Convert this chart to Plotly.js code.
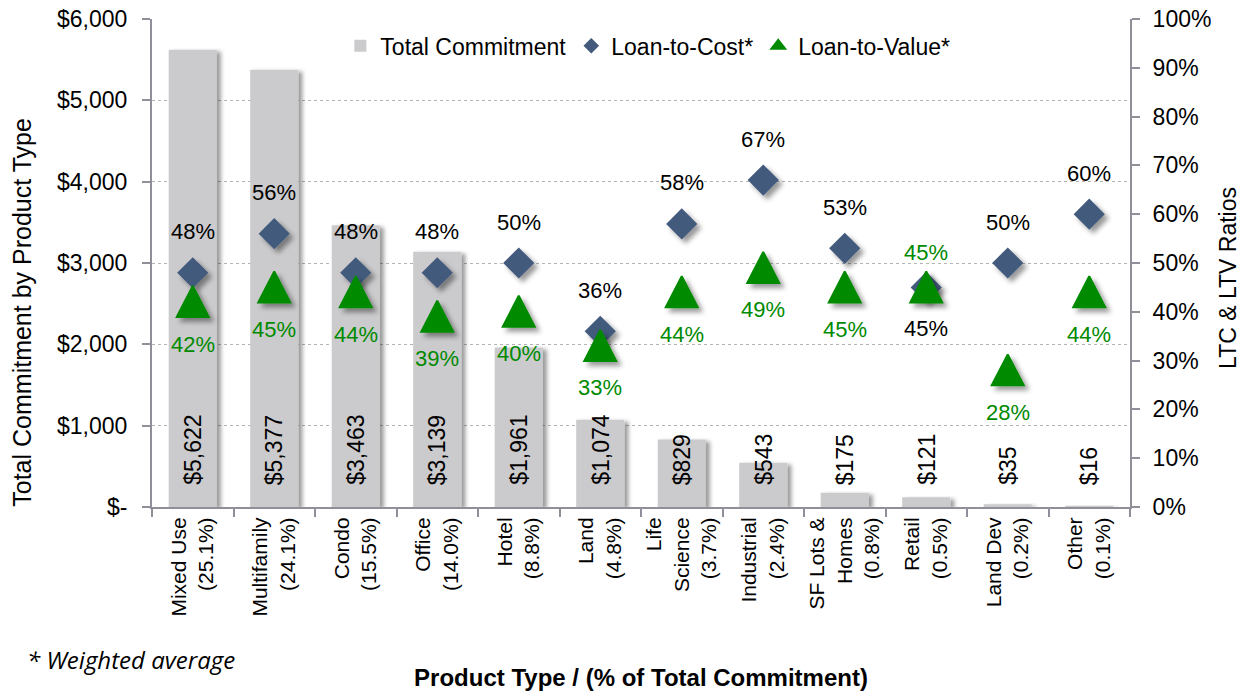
<!DOCTYPE html>
<html>
<head>
<meta charset="utf-8">
<script src="https://cdn.plot.ly/plotly-3.0.1.min.js"></script>
<style>
  html, body { margin: 0; padding: 0; background: #ffffff; }
  #chart { width: 1248px; height: 692px; }
  .barlayer .point path { filter: url(#shadowBar); }
  .scatterlayer path.point { filter: url(#shadowMark); }
</style>
</head>
<body>
<svg width="0" height="0" style="position:absolute">
  <defs>
    <filter id="shadowBar" x="-30%" y="-10%" width="160%" height="120%">
      <feDropShadow dx="4" dy="2" stdDeviation="2" flood-color="#000" flood-opacity="0.4"/>
    </filter>
    <filter id="shadowMark" x="-50%" y="-50%" width="200%" height="200%">
      <feDropShadow dx="4" dy="4" stdDeviation="2.5" flood-color="#000" flood-opacity="0.4"/>
    </filter>
  </defs>
</svg>
<div id="chart"></div>
<script>
// ---- data ----
const categories = ['Mixed Use', 'Multifamily', 'Condo', 'Office', 'Hotel', 'Land',
  'Life<br>Science', 'Industrial', 'SF Lots &<br>Homes', 'Retail', 'Land Dev', 'Other'];
const sharePct = ['25.1%', '24.1%', '15.5%', '14.0%', '8.8%', '4.8%',
  '3.7%', '2.4%', '0.8%', '0.5%', '0.2%', '0.1%'];
const totalCommitment = [5622, 5377, 3463, 3139, 1961, 1074, 829, 543, 175, 121, 35, 16];
const loanToCost = [48, 56, 48, 48, 50, 36, 58, 67, 53, 45, 50, 60];
const loanToValue = [42, 45, 44, 39, 40, 33, 44, 49, 45, 45, 28, 44];
const leftTickVals = [0, 1000, 2000, 3000, 4000, 5000, 6000];
const leftTickText = ['$-', '$1,000', '$2,000', '$3,000', '$4,000', '$5,000', '$6,000'];
const rightTickVals = [0, 10, 20, 30, 40, 50, 60, 70, 80, 90, 100];
const rightTickText = ['0%', '10%', '20%', '30%', '40%', '50%', '60%', '70%', '80%', '90%', '100%'];

// ---- build ----
const FONT = 'Liberation Sans, Arial, Helvetica, sans-serif';
const xLabels = categories.map((c, i) => c + '<br>(' + sharePct[i] + ')');
const AXIS = '#8e8f99';
const GREEN = '#008a00';
const SLATE = '#435a7c';

const traces = [
  {
    type: 'bar', name: 'Total Commitment', x: xLabels, y: totalCommitment,
    marker: { color: '#cbcacc' }, width: 0.59, yaxis: 'y', hoverinfo: 'x+y'
  },
  {
    type: 'scatter', mode: 'markers', name: 'Loan-to-Cost*', x: xLabels, y: loanToCost,
    yaxis: 'y2', marker: { symbol: 'diamond', size: 24, color: SLATE }
  },
  {
    type: 'scatter', mode: 'markers', name: 'Loan-to-Value*', x: xLabels, y: loanToValue,
    yaxis: 'y2', marker: { symbol: 'triangle-up', size: 27, color: GREEN, line: { color: GREEN, width: 2 } }
  }
];

const annotations = [];
xLabels.forEach((xl, i) => {
  const swap = categories[i] === 'Retail';
  annotations.push({
    x: xl, y: loanToCost[i], xref: 'x', yref: 'y2', text: loanToCost[i] + '%',
    showarrow: false, yshift: swap ? -41 : 41,
    font: { family: FONT, size: 22, color: '#000000' }
  });
  annotations.push({
    x: xl, y: loanToValue[i], xref: 'x', yref: 'y2', text: loanToValue[i] + '%',
    showarrow: false, yshift: swap ? 35 : -42,
    font: { family: FONT, size: 22, color: GREEN }
  });
  annotations.push({
    x: xl, y: 0, xref: 'x', yref: 'paper', yanchor: 'bottom', yshift: 20,
    text: '$' + totalCommitment[i].toLocaleString('en-US'), textangle: -90,
    showarrow: false, font: { family: FONT, size: 23, color: '#000000' }
  });
});
// axis titles (placed as in the reference)
annotations.push({
  xref: 'paper', yref: 'paper', x: -0.133, y: 0.40, xanchor: 'center', yanchor: 'middle',
  text: 'Total Commitment by Product Type', textangle: -90, showarrow: false,
  font: { family: FONT, size: 25, color: '#000000' }
});
annotations.push({
  xref: 'paper', yref: 'paper', x: 1.100, y: 0.469, xanchor: 'center', yanchor: 'middle',
  text: 'LTC & LTV Ratios', textangle: -90, showarrow: false,
  font: { family: FONT, size: 23, color: '#000000' }
});
annotations.push({
  xref: 'paper', yref: 'paper', x: -0.13, y: -0.313, xanchor: 'left', yanchor: 'middle',
  text: '<i>* Weighted average</i>', showarrow: false,
  font: { family: 'Open Sans, sans-serif', size: 24, color: '#000000' }
});

const layout = {
  width: 1248, height: 692,
  margin: { l: 152, r: 118, t: 19, b: 185 },
  paper_bgcolor: '#ffffff', plot_bgcolor: '#ffffff',
  font: { family: FONT, size: 22, color: '#000000' },
  showlegend: true,
  legend: {
    orientation: 'h', x: 0.507, xanchor: 'center', y: 0.945, yanchor: 'middle',
    bgcolor: 'rgba(0,0,0,0)', font: { family: FONT, size: 23, color: '#000000' },
    itemsizing: 'constant', traceorder: 'normal'
  },
  xaxis: {
    type: 'category', range: [-0.5, 11.5], showline: true, linecolor: AXIS, linewidth: 2,
    ticks: 'outside', tickson: 'boundaries', ticklen: 8, tickcolor: AXIS, tickwidth: 2,
    tickangle: -90, tickfont: { family: FONT, size: 21, color: '#000000' },
    showgrid: false, zeroline: false, automargin: false,
    title: { text: '<b>Product Type / (% of Total Commitment)</b>', standoff: 54,
      font: { family: FONT, size: 24, color: '#000000' } }
  },
  yaxis: {
    range: [0, 6000], tickmode: 'array', tickvals: leftTickVals, ticktext: leftTickText,
    showline: true, linecolor: AXIS, linewidth: 2, ticks: 'outside', ticklen: 8,
    tickcolor: AXIS, tickwidth: 2, ticklabelstandoff: 10,
    showgrid: true, gridcolor: '#b4b4b4', griddash: 'dot', gridwidth: 1,
    zeroline: false, automargin: false,
    tickfont: { family: FONT, size: 23, color: '#000000' }
  },
  yaxis2: {
    overlaying: 'y', side: 'right', range: [0, 100], tickmode: 'array',
    tickvals: rightTickVals, ticktext: rightTickText,
    showline: true, linecolor: AXIS, linewidth: 2, ticks: 'outside', ticklen: 8,
    tickcolor: AXIS, tickwidth: 2, ticklabelstandoff: 8,
    showgrid: false, zeroline: false, automargin: false,
    tickfont: { family: FONT, size: 23, color: '#000000' }
  },
  annotations: annotations
};

Plotly.newPlot('chart', traces, layout, { staticPlot: true, displayModeBar: false }).then(function (gd) {
  // make the Loan-to-Value triangles as tall as in the reference (glyph shape only)
  var traceGroups = gd.querySelectorAll('.scatterlayer .trace');
  if (traceGroups.length > 1) {
    traceGroups[1].querySelectorAll('path.point').forEach(function (p) {
      p.setAttribute('d', 'M-16,15H16L0,-16Z');
    });
  }
});
</script>
</body>
</html>
